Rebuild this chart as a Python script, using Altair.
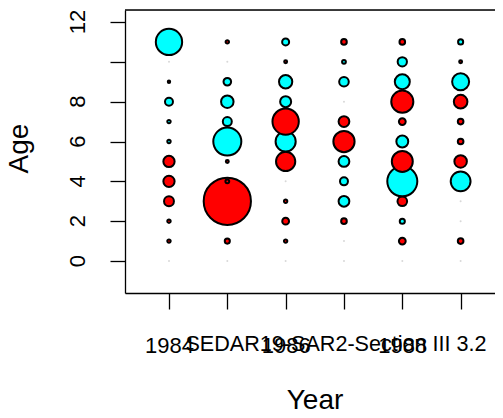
import altair as alt
import pandas as pd
import math

# Years and ages of the residual bubble plot
years = [1984, 1985, 1986, 1987, 1988, 1989]
ages = list(range(0, 12))

# Residuals per year, ages 0..11 (sign: + red, - cyan; 0 = near zero)
res_1984 = [0, 0.04, 0.04, 0.34, 0.44, 0.44, -0.04, -0.04, -0.22, 0.02, 0, -2.40]
res_1985 = [0, 0.09, 0, 7.73, 0.05, 0.03, -2.72, -0.28, -0.54, -0.20, 0, 0.04]
res_1986 = [0, 0.04, 0.16, 0.04, 0, 1.28, -1.40, 2.40, -0.42, -0.61, 0.03, -0.17]
res_1987 = [0, 0, 0.11, -0.40, -0.22, -0.40, 1.56, 0.40, 0, -0.32, -0.05, 0.11]
res_1988 = [0, 0.16, -0.09, 0.32, -3.12, 1.52, -0.49, 0.16, 1.69, -0.78, -0.30, 0.11]
res_1989 = [0, 0.11, 0, 0, -1.36, 0.54, 0.11, 0.11, 0.64, -1.00, 0.03, -0.09]

x_ticks = [1984, 1985, 1986, 1987, 1988, 1989]
y_ticks = [0, 2, 4, 6, 8, 10, 12]
y_labels = ["0", "2", "4", "6", "8", "", "12"]
subtitle = "SEDAR19-SAR2-Section III 3.2"

rows = []
for yr, col in zip(years, [res_1984, res_1985, res_1986, res_1987, res_1988, res_1989]):
    for a, v in zip(ages, col):
        rows.append({"Year": yr, "Age": a, "res": v})
df = pd.DataFrame(rows)

W, H = 370, 283
xdom = [1983.246, 1983.246 + W / 58.33]
ydom = [12.602 - H / 19.92, 12.602]
FONT = "Liberation Sans"

xscale = alt.Scale(domain=xdom, nice=False, zero=False)
yscale = alt.Scale(domain=ydom, nice=False, zero=False)

base = alt.Chart(df)

zeros = base.transform_filter("datum.res == 0").mark_circle(
    size=4, color="#d8d8d8", opacity=1
).encode(
    x=alt.X("Year:Q", scale=xscale,
            axis=alt.Axis(values=x_ticks, format="d", grid=False,
                          labelExpr="datum.value % 2 == 0 ? datum.label : ''",
                          labelFont=FONT, labelFontSize=22, labelColor="black",
                          labelBaseline="alphabetic", labelPadding=43,
                          labelOverlap=False, labelFlush=False, labelBound=False,
                          tickSize=16, tickColor="black", tickWidth=1.3,
                          domainColor="black", domainWidth=1.3,
                          title="Year", titleFont=FONT, titleFontSize=28,
                          titleFontWeight="normal", titleColor="black",
                          titleX=189.5, titleY=115, titleAlign="center",
                          titleBaseline="alphabetic", titleAnchor=None)),
    y=alt.Y("Age:Q", scale=yscale,
            axis=alt.Axis(values=y_ticks, grid=False, labels=False,
                          tickSize=15, tickColor="black", tickWidth=1.3,
                          domainColor="black", domainWidth=1.3,
                          title="Age", titleFont=FONT, titleFontSize=28,
                          titleFontWeight="normal", titleColor="black",
                          titleAngle=270, titleX=-106, titleY=138,
                          titleAlign="center", titleBaseline="middle")),
)

bubbles = base.transform_filter("datum.res != 0").transform_calculate(
    absres="abs(datum.res)",
    sign="datum.res > 0 ? 'pos' : 'neg'",
).mark_point(filled=True, shape="circle", stroke="black", strokeWidth=2,
             opacity=1, fillOpacity=1, strokeOpacity=1).encode(
    x=alt.X("Year:Q", scale=xscale),
    y=alt.Y("Age:Q", scale=yscale),
    size=alt.Size("absres:Q", scale=alt.Scale(type="linear", domain=[0, 8],
                                              range=[0, 8 * math.pi * 92]),
                  legend=None),
    fill=alt.Fill("sign:N", scale=alt.Scale(domain=["pos", "neg"],
                                            range=["#FF0000", "#00FFFF"]),
                  legend=None),
)

ylab = alt.Chart(pd.DataFrame({"v": y_ticks, "lab": y_labels})).mark_text(
    font=FONT, fontSize=22, color="black", angle=270, align="center",
    baseline="alphabetic"
).encode(text="lab:N", x=alt.value(-40), y=alt.Y("v:Q", scale=yscale))

topline = alt.Chart(pd.DataFrame({"a": [0]})).mark_rule(
    color="black", strokeWidth=1.3
).encode(x=alt.value(0), x2=alt.value(W), y=alt.value(0))

sub = alt.Chart(pd.DataFrame({"t": [subtitle]})).mark_text(
    font=FONT, fontSize=21.6, color="black", align="center", baseline="alphabetic"
).encode(text="t:N", x=alt.value(211), y=alt.value(341))

chart = alt.layer(zeros, bubbles, ylab, topline, sub).properties(
    width=W, height=H,
    autosize=alt.AutoSizeParams(type="none"),
    padding={"left": 117, "top": 2, "right": 0, "bottom": 117},
).configure_view(stroke=None).configure(background="white")

chart.save("out.html", embed_options={"renderer": "svg", "actions": False})
